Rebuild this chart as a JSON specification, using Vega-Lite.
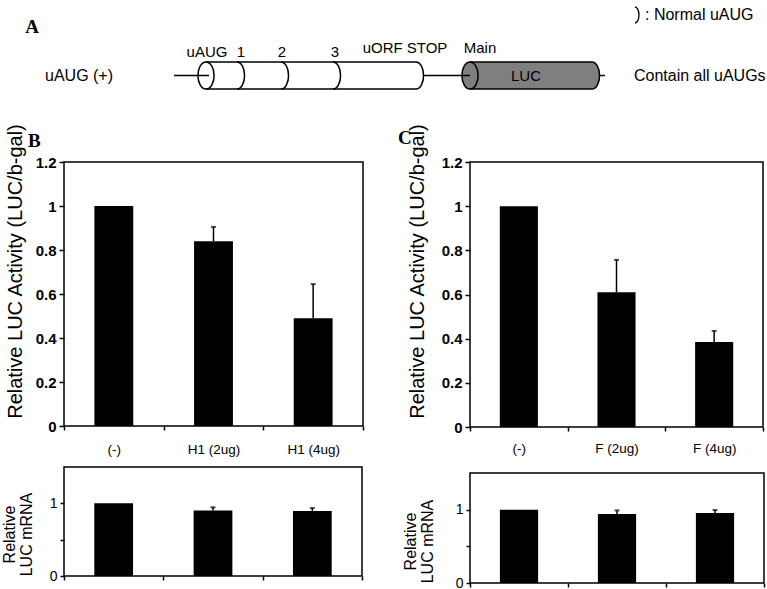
{
  "$schema": "https://vega.github.io/schema/vega-lite/v6.json",
  "padding": 0,
  "background": "white",
  "config": {
    "font": "Liberation Sans",
    "view": {"stroke": "black", "strokeWidth": 1.5},
    "axis": {"grid": false, "labelFont": "Liberation Sans", "titleFont": "Liberation Sans", "labelColor": "black", "titleColor": "black", "tickColor": "black", "tickWidth": 1.5, "domainColor": "black"}
  },
  "datasets": {
    "luc": [
      {"panel": "B", "cond": "(-)", "value": 1.0, "err": null},
      {"panel": "B", "cond": "H1 (2ug)", "value": 0.84, "err": 0.905},
      {"panel": "B", "cond": "H1 (4ug)", "value": 0.49, "err": 0.645},
      {"panel": "C", "cond": "(-)", "value": 1.0, "err": null},
      {"panel": "C", "cond": "F (2ug)", "value": 0.61, "err": 0.757},
      {"panel": "C", "cond": "F (4ug)", "value": 0.385, "err": 0.435}
    ],
    "mrna": [
      {"panel": "B", "cond": "(-)", "value": 1.0, "err": null},
      {"panel": "B", "cond": "H1 (2ug)", "value": 0.9, "err": 0.945},
      {"panel": "B", "cond": "H1 (4ug)", "value": 0.895, "err": 0.935},
      {"panel": "C", "cond": "(-)", "value": 1.0, "err": null},
      {"panel": "C", "cond": "F (2ug)", "value": 0.94, "err": 0.99},
      {"panel": "C", "cond": "F (4ug)", "value": 0.955, "err": 0.995}
    ],
    "segments": [
      {"x1": 174, "x2": 209, "y": 75.5},
      {"x1": 424, "x2": 470, "y": 75.5},
      {"x1": 600, "x2": 605, "y": 75.5},
      {"x1": 206, "x2": 416, "y": 62},
      {"x1": 206, "x2": 416, "y": 89},
      {"x1": 470, "x2": 592, "y": 62},
      {"x1": 470, "x2": 592, "y": 89}
    ],
    "bodies": [
      {"part": "uORF", "x1": 206, "x2": 416, "y1": 62, "y2": 89},
      {"part": "LUC", "x1": 470, "x2": 592, "y1": 62, "y2": 89}
    ],
    "leftEnds": [
      {"part": "uORF", "x": 206, "y": 75.5},
      {"part": "LUC", "x": 470, "y": 75.5}
    ],
    "rightEnds": [
      {"part": "uORF", "x": 416, "y": 75.5},
      {"part": "LUC", "x": 592, "y": 75.5}
    ],
    "arcs": [
      {"x": 237, "y": 75.5},
      {"x": 281, "y": 75.5},
      {"x": 333, "y": 75.5},
      {"x": 416, "y": 75.5},
      {"x": 592, "y": 75.5}
    ],
    "legendArc": [{"x": 635, "y": 15}],
    "labels": [
      {"group": "center", "x": 207, "y": 52, "text": "uAUG"},
      {"group": "center", "x": 241, "y": 52, "text": "1"},
      {"group": "center", "x": 282, "y": 52, "text": "2"},
      {"group": "center", "x": 335, "y": 52, "text": "3"},
      {"group": "center", "x": 405, "y": 48, "text": "uORF STOP"},
      {"group": "center", "x": 480, "y": 48, "text": "Main"},
      {"group": "center", "x": 526, "y": 75.5, "text": "LUC"},
      {"group": "left", "x": 45, "y": 76, "text": "uAUG (+)"},
      {"group": "left", "x": 634, "y": 76, "text": "Contain all uAUGs"},
      {"group": "left", "x": 645, "y": 15, "text": ": Normal uAUG"},
      {"group": "panel", "x": 32, "y": 27, "text": "A"}
    ]
  },
  "spacing": 12,
  "vconcat": [
    {
      "width": 703,
      "height": 110,
      "view": {"stroke": null},
      "layer": [
        {
          "data": {"name": "bodies"},
          "mark": {"type": "rect", "strokeWidth": 0},
          "encoding": {
            "x": {"field": "x1", "type": "quantitative", "scale": {"domain": [64, 767], "nice": false, "zero": false}, "axis": null},
            "x2": {"field": "x2"},
            "y": {"field": "y1", "type": "quantitative", "scale": {"domain": [0, 110], "reverse": true, "nice": false, "zero": false}, "axis": null},
            "y2": {"field": "y2"},
            "color": {"field": "part", "type": "nominal", "scale": {"domain": ["uORF", "LUC"], "range": ["white", "#7f7f7f"]}, "legend": null}
          }
        },
        {
          "data": {"name": "leftEnds"},
          "mark": {"type": "point", "shape": "M0,-1 A0.6,1 0 1,1 0,1 A0.6,1 0 1,1 0,-1 Z", "size": 729, "filled": true, "stroke": "black", "strokeWidth": 1.5, "opacity": 1},
          "encoding": {
            "x": {"field": "x", "type": "quantitative", "axis": null},
            "y": {"field": "y", "type": "quantitative", "axis": null},
            "color": {"field": "part", "type": "nominal", "legend": null}
          }
        },
        {
          "data": {"name": "rightEnds"},
          "mark": {"type": "point", "shape": "M0,-1 A0.56,1 0 0,1 0,1 Z", "size": 729, "filled": true, "strokeWidth": 0, "opacity": 1},
          "encoding": {
            "x": {"field": "x", "type": "quantitative", "axis": null},
            "y": {"field": "y", "type": "quantitative", "axis": null},
            "color": {"field": "part", "type": "nominal", "legend": null}
          }
        },
        {
          "data": {"name": "arcs"},
          "mark": {"type": "point", "shape": "M0,-1 A0.56,1 0 0,1 0,1", "size": 729, "filled": false, "stroke": "black", "strokeWidth": 1.5, "opacity": 1},
          "encoding": {
            "x": {"field": "x", "type": "quantitative", "axis": null},
            "y": {"field": "y", "type": "quantitative", "axis": null}
          }
        },
        {
          "data": {"name": "legendArc"},
          "mark": {"type": "point", "shape": "M0,-1 A0.5,1 0 0,1 0,1", "size": 256, "filled": false, "stroke": "black", "strokeWidth": 1.3, "opacity": 1},
          "encoding": {
            "x": {"field": "x", "type": "quantitative", "axis": null},
            "y": {"field": "y", "type": "quantitative", "axis": null}
          }
        },
        {
          "data": {"name": "segments"},
          "mark": {"type": "rule", "color": "black", "strokeWidth": 1.5},
          "encoding": {
            "x": {"field": "x1", "type": "quantitative", "axis": null},
            "x2": {"field": "x2"},
            "y": {"field": "y", "type": "quantitative", "axis": null}
          }
        },
        {
          "data": {"name": "labels"},
          "transform": [{"filter": "datum.group == 'center'"}],
          "mark": {"type": "text", "font": "Liberation Sans", "fontSize": 15, "align": "center", "baseline": "middle", "color": "black"},
          "encoding": {
            "x": {"field": "x", "type": "quantitative", "axis": null},
            "y": {"field": "y", "type": "quantitative", "axis": null},
            "text": {"field": "text"}
          }
        },
        {
          "data": {"name": "labels"},
          "transform": [{"filter": "datum.group == 'left'"}],
          "mark": {"type": "text", "font": "Liberation Sans", "fontSize": 16, "align": "left", "baseline": "middle", "color": "black"},
          "encoding": {
            "x": {"field": "x", "type": "quantitative", "axis": null},
            "y": {"field": "y", "type": "quantitative", "axis": null},
            "text": {"field": "text"}
          }
        },
        {
          "data": {"name": "labels"},
          "transform": [{"filter": "datum.group == 'panel'"}],
          "mark": {"type": "text", "font": "Liberation Serif", "fontSize": 19, "fontWeight": "bold", "align": "center", "baseline": "middle", "color": "black"},
          "encoding": {
            "x": {"field": "x", "type": "quantitative", "axis": null},
            "y": {"field": "y", "type": "quantitative", "axis": null},
            "text": {"field": "text"}
          }
        }
      ]
    },
    {
      "spacing": 32,
      "hconcat": [
        {
          "spacing": 9,
          "vconcat": [
            {
              "width": 299,
              "height": 264,
              "title": {"text": "B", "anchor": "start", "frame": "group", "dx": -36, "offset": -28, "font": "Liberation Serif", "fontSize": 19, "fontWeight": "bold", "color": "black"},
              "data": {"name": "luc"},
              "transform": [{"filter": "datum.panel == 'B'"}],
              "encoding": {
                "x": {"field": "cond", "type": "nominal", "sort": null, "scale": {"paddingInner": 0, "paddingOuter": 0}, "axis": {"title": null, "labelAngle": 0, "tickBand": "extent", "tickSize": 4, "labelPadding": 12, "labelFontSize": 13.5, "domain": false}}
              },
              "layer": [
                {
                  "mark": {"type": "bar", "color": "black", "width": {"band": 0.39}},
                  "encoding": {
                    "y": {"field": "value", "type": "quantitative", "scale": {"domain": [0, 1.2], "nice": false}, "axis": {"title": "Relative LUC Activity (LUC/b-gal)", "values": [0, 0.2, 0.4, 0.6, 0.8, 1, 1.2], "format": "~g", "labelFontSize": 15, "labelFontWeight": "bold", "tickSize": 5, "labelPadding": 3, "titlePadding": 10, "titleFontSize": 20, "titleFontWeight": "normal", "titleY": 109, "domain": false}}
                  }
                },
                {
                  "transform": [{"filter": "datum.err != null"}],
                  "mark": {"type": "rule", "color": "black", "strokeWidth": 1.5},
                  "encoding": {"y": {"field": "value", "type": "quantitative"}, "y2": {"field": "err"}}
                },
                {
                  "transform": [{"filter": "datum.err != null"}],
                  "mark": {"type": "tick", "color": "black", "size": 5, "thickness": 2},
                  "encoding": {"y": {"field": "err", "type": "quantitative"}}
                }
              ]
            },
            {
              "width": 298,
              "height": 109,
              "data": {"name": "mrna"},
              "transform": [{"filter": "datum.panel == 'B'"}],
              "encoding": {
                "x": {"field": "cond", "type": "nominal", "sort": null, "scale": {"paddingInner": 0, "paddingOuter": 0}, "axis": {"title": null, "labels": false, "tickBand": "extent", "tickSize": 4, "domain": false}}
              },
              "layer": [
                {
                  "mark": {"type": "bar", "color": "black", "width": {"band": 0.39}},
                  "encoding": {
                    "y": {"field": "value", "type": "quantitative", "scale": {"domain": [0, 1.5], "nice": false}, "axis": {"title": ["Relative", "LUC mRNA"], "values": [0, 0.5, 1], "format": "~g", "labelExpr": "datum.value == 0.5 ? '' : datum.label", "labelOverlap": false, "labelFlush": false, "labelFontSize": 14, "labelFontWeight": "normal", "tickSize": 4, "labelPadding": 3, "titlePadding": 15, "titleFontSize": 16, "titleLineHeight": 17, "titleFontWeight": "normal", "titleY": 67, "domain": false}}
                  }
                },
                {
                  "transform": [{"filter": "datum.err != null"}],
                  "mark": {"type": "rule", "color": "black", "strokeWidth": 1.5},
                  "encoding": {"y": {"field": "value", "type": "quantitative"}, "y2": {"field": "err"}}
                },
                {
                  "transform": [{"filter": "datum.err != null"}],
                  "mark": {"type": "tick", "color": "black", "size": 5, "thickness": 2},
                  "encoding": {"y": {"field": "err", "type": "quantitative"}}
                }
              ]
            }
          ]
        },
        {
          "spacing": 46,
          "bounds": "flush",
          "vconcat": [
            {
              "width": 293,
              "height": 265,
              "title": {"text": "C", "anchor": "start", "frame": "group", "dx": -72, "offset": -25, "font": "Liberation Serif", "fontSize": 19, "fontWeight": "bold", "color": "black"},
              "data": {"name": "luc"},
              "transform": [{"filter": "datum.panel == 'C'"}],
              "encoding": {
                "x": {"field": "cond", "type": "nominal", "sort": null, "scale": {"paddingInner": 0, "paddingOuter": 0}, "axis": {"title": null, "labelAngle": 0, "tickBand": "extent", "tickSize": 4, "labelPadding": 10, "labelFontSize": 13.5, "domain": false}}
              },
              "layer": [
                {
                  "mark": {"type": "bar", "color": "black", "width": {"band": 0.39}},
                  "encoding": {
                    "y": {"field": "value", "type": "quantitative", "scale": {"domain": [0, 1.2], "nice": false}, "axis": {"title": "Relative LUC Activity (LUC/b-gal)", "values": [0, 0.2, 0.4, 0.6, 0.8, 1, 1.2], "format": "~g", "labelFontSize": 15, "labelFontWeight": "bold", "tickSize": 5, "labelPadding": 3, "titlePadding": 14, "titleFontSize": 20, "titleFontWeight": "normal", "titleY": 109, "domain": false}}
                  }
                },
                {
                  "transform": [{"filter": "datum.err != null"}],
                  "mark": {"type": "rule", "color": "black", "strokeWidth": 1.5},
                  "encoding": {"y": {"field": "value", "type": "quantitative"}, "y2": {"field": "err"}}
                },
                {
                  "transform": [{"filter": "datum.err != null"}],
                  "mark": {"type": "tick", "color": "black", "size": 5, "thickness": 2},
                  "encoding": {"y": {"field": "err", "type": "quantitative"}}
                }
              ]
            },
            {
              "width": 294,
              "height": 110,
              "data": {"name": "mrna"},
              "transform": [{"filter": "datum.panel == 'C'"}],
              "encoding": {
                "x": {"field": "cond", "type": "nominal", "sort": null, "scale": {"paddingInner": 0, "paddingOuter": 0}, "axis": {"title": null, "labels": false, "tickBand": "extent", "tickSize": 4, "domain": false}}
              },
              "layer": [
                {
                  "mark": {"type": "bar", "color": "black", "width": {"band": 0.39}},
                  "encoding": {
                    "y": {"field": "value", "type": "quantitative", "scale": {"domain": [0, 1.5], "nice": false}, "axis": {"title": ["Relative", "LUC mRNA"], "values": [0, 0.5, 1], "format": "~g", "labelExpr": "datum.value == 0.5 ? '' : datum.label", "labelOverlap": false, "labelFlush": false, "labelFontSize": 14, "labelFontWeight": "normal", "tickSize": 4, "labelPadding": 3, "titlePadding": 20, "titleFontSize": 16, "titleLineHeight": 17, "titleFontWeight": "normal", "titleY": 68, "domain": false}}
                  }
                },
                {
                  "transform": [{"filter": "datum.err != null"}],
                  "mark": {"type": "rule", "color": "black", "strokeWidth": 1.5},
                  "encoding": {"y": {"field": "value", "type": "quantitative"}, "y2": {"field": "err"}}
                },
                {
                  "transform": [{"filter": "datum.err != null"}],
                  "mark": {"type": "tick", "color": "black", "size": 5, "thickness": 2},
                  "encoding": {"y": {"field": "err", "type": "quantitative"}}
                }
              ]
            }
          ]
        }
      ]
    }
  ]
}
